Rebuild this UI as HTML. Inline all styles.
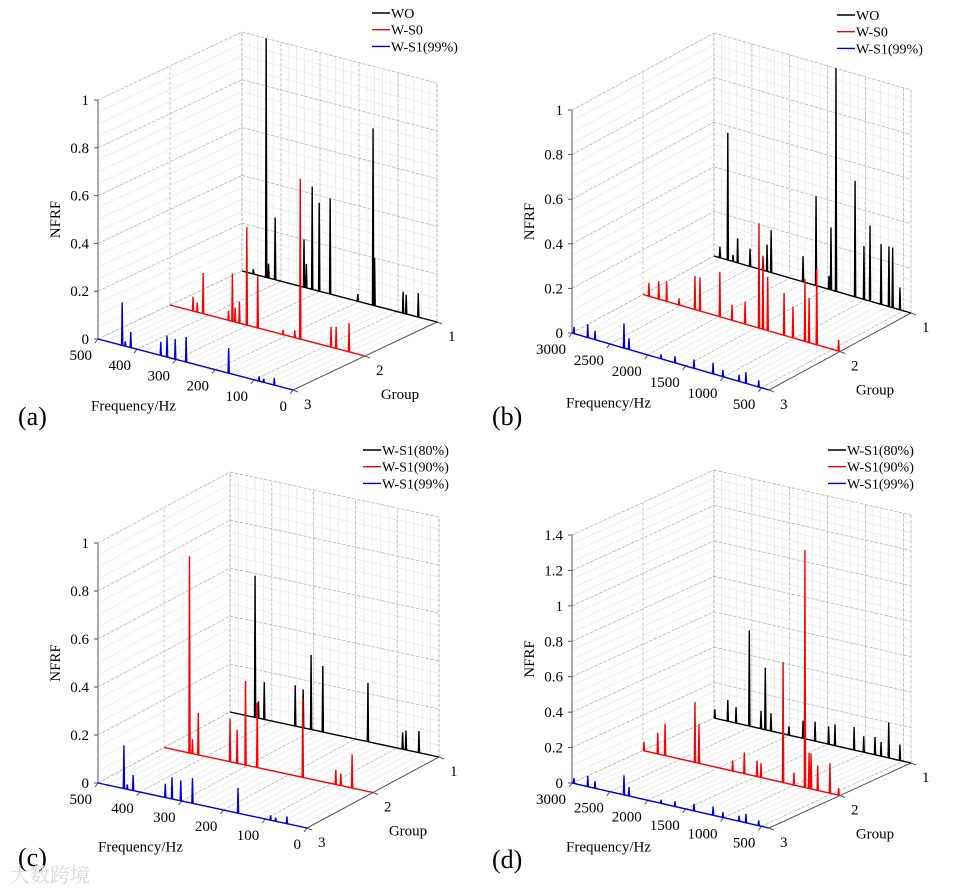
<!DOCTYPE html>
<html><head><meta charset="utf-8"><style>
html,body{margin:0;padding:0;background:#fff;}
svg{display:block;}
text{font-family:"Liberation Serif","Noto Serif CJK SC",serif;}
</style></head><body>
<svg id="fig" width="953" height="890" viewBox="0 0 953 890" font-family="Liberation Serif, serif" xmlns="http://www.w3.org/2000/svg"></svg>
<script>
// ---- data (frequency in Hz, NFRF value) ----
const aFreqWO=[471,438,432,415,341,335,320,302,274,203,164,160,87,79,48];
const aValWO=[.02,1.0,.06,.26,.2,.1,.43,.37,.4,.03,.74,.2,.09,.08,.1];
const aFreqS0=[441,430,415,350,340,333,322,303,275,210,180,166,87,74,41];
const aValS0=[.06,.04,.17,.04,.2,.06,.09,.41,.22,.02,.03,.67,.085,.09,.12];
const aFreqS1=[438,430,416,339,323,302,274,165,87,75,48];
const aValS1=[.18,.02,.065,.057,.09,.085,.105,.105,.02,.015,.03];

const bFreqWO=[2922,2818,2749,2688,2524,2353,2300,2246,1825,1653,1482,1456,1390,1138,1021,941,795,691,642,546];
const bValWO=[.05,.57,.03,.11,.08,.06,.12,.19,.115,.4,.06,.28,1.0,.52,.24,.34,.27,.27,.27,.1];
const bFreqS0=[2922,2792,2688,2524,2314,2248,1986,1825,1653,1469,1417,1354,1138,1021,863,808,707,418];
const bValS0=[.06,.08,.09,.03,.15,.15,.2,.07,.1,.47,.33,.24,.19,.14,.28,.2,.34,.05];
const bFreqS1=[2974,2792,2696,2314,2248,1825,1640,1390,1138,1008,795,704,536];
const bValS1=[.03,.06,.04,.11,.05,.02,.03,.04,.05,.03,.03,.05,.03];

const cFreq80=[440,432,418,344,325,306,278,170,87,79,48];
const cVal80=[.59,.07,.155,.17,.16,.31,.275,.245,.07,.08,.09];
const cFreq90=[439,432,418,342,325,305,277,168,89,77,50];
const cVal90=[.82,.06,.175,.18,.14,.35,.27,.33,.06,.05,.14];
const cFreq99=[438,430,416,339,323,302,274,165,87,75,48];
const cVal99=[.18,.02,.065,.057,.09,.085,.105,.105,.02,.015,.03];

const dFreq80=[2990,2818,2709,2534,2379,2323,2248,2011,1825,1666,1487,1403,1151,1024,875,795,694,546];
const dVal80=[.05,.12,.09,.54,.1,.35,.1,.05,.1,.11,.1,.12,.13,.09,.1,.08,.2,.09];
const dFreq90=[2987,2805,2709,2314,2261,1817,1663,1495,1442,1151,1008,863,808,782,694,533,418];
const dVal90=[.05,.12,.18,.34,.22,.06,.12,.09,.08,.68,.07,1.34,.2,.2,.14,.17,.04];
const dFreq99=[2974,2792,2696,2314,2248,1825,1640,1390,1138,1008,795,704,536];
const dVal99=[.03,.06,.04,.11,.05,.02,.03,.04,.05,.03,.03,.05,.03];

const zTicksA=['0','0.2','0.4','0.6','0.8','1'];
const zTicksD=['0','0.2','0.4','0.6','0.8','1','1.2','1.4'];
const fTicksA=[500,400,300,200,100,0];
const fTicksB=[3000,2500,2000,1500,1000,500];
const groupTicks=[1,2,3];

const NS='http://www.w3.org/2000/svg';
const svg=document.getElementById('fig');
function mk(tag,attrs,parent){const e=document.createElementNS(NS,tag);for(const k in attrs)e.setAttribute(k,attrs[k]);(parent||svg).appendChild(e);return e;}
const SERIF='Liberation Serif, serif';

const panels=[
 {id:'a',O:[98,339],F:[195,51],G:[144,-68],zH:239,zmax:1,fmax:500,fmin:0,fMaj:100,fMin:20,zMaj:.2,zMin:.05,zT:zTicksA,fT:fTicksA,
  series:[[aFreqWO,aValWO,'#000','WO'],[aFreqS0,aValS0,'#ff0000','W-S0'],[aFreqS1,aValS1,'#0000dd','W-S1(99%)']],leg:[372,13],lab:[18,425]},
 {id:'b',O:[572,333],F:[197,57],G:[142,-77],zH:223,zmax:1,fmax:3000,fmin:400,fMaj:500,fMin:100,zMaj:.2,zMin:.05,zT:zTicksA,fT:fTicksB,
  series:[[bFreqWO,bValWO,'#000','WO'],[bFreqS0,bValS0,'#ff0000','W-S0'],[bFreqS1,bValS1,'#0000dd','W-S1(99%)']],leg:[837,15],lab:[492,425]},
 {id:'c',O:[98,783],F:[209,45],G:[132,-71],zH:240,zmax:1,fmax:500,fmin:0,fMaj:100,fMin:20,zMaj:.2,zMin:.05,zT:zTicksA,fT:fTicksA,
  series:[[cFreq80,cVal80,'#000','W-S1(80%)'],[cFreq90,cVal90,'#ff0000','W-S1(90%)'],[cFreq99,cVal99,'#0000dd','W-S1(99%)']],leg:[363,450],lab:[18,866]},
 {id:'d',O:[572,783],F:[197,45],G:[142,-65],zH:248,zmax:1.4,fmax:3000,fmin:400,fMaj:500,fMin:100,zMaj:.2,zMin:.05,zT:zTicksD,fT:fTicksB,
  series:[[dFreq80,dVal80,'#000','W-S1(80%)'],[dFreq90,dVal90,'#ff0000','W-S1(90%)'],[dFreq99,dVal99,'#0000dd','W-S1(99%)']],leg:[828,450],lab:[492,868]}
];

panels.forEach(p=>{
  const g=mk('g',{'font-family':SERIF});
  
  
  const P=(f,gr,z)=>{const fr=(p.fmax-f)/(p.fmax-p.fmin);const gg=(3-gr)/2;
    return [p.O[0]+fr*p.F[0]+gg*p.G[0], p.O[1]+fr*p.F[1]+gg*p.G[1]-z*p.zH/p.zmax];};
  const line=(a,b,st,par)=>mk('line',Object.assign({x1:a[0].toFixed(2),y1:a[1].toFixed(2),x2:b[0].toFixed(2),y2:b[1].toFixed(2)},st),par||g);
  const txt=(x,y,s,size,anchor,par)=>{const t=mk('text',{x:x.toFixed(1),y:y.toFixed(1),'font-size':size,'font-family':SERIF,'text-anchor':anchor||'start'},par||g);t.textContent=s;return t;};
  const minorSt={stroke:'#e8e8e8','stroke-width':.7};
  const majorSt={stroke:'#b0b0b0','stroke-width':.7,'stroke-dasharray':'3,2'};
  const grid=mk('g',{},g);
  
  
  const nzMin=Math.round(p.zmax/p.zMin);
  for(let i=0;i<=nzMin;i++){const z=i*p.zMin;
    line(P(p.fmax,3,z),P(p.fmax,1,z),minorSt,grid);line(P(p.fmax,1,z),P(p.fmin,1,z),minorSt,grid);}
  for(let f=p.fmax;f>=p.fmin-1e-6;f-=p.fMin){
    line(P(f,3,0),P(f,1,0),minorSt,grid);line(P(f,1,0),P(f,1,p.zmax),minorSt,grid);}
  line(P(p.fmin,1,0),P(p.fmin,1,p.zmax),minorSt,grid);
  const nzMaj=Math.round(p.zmax/p.zMaj);
  for(let i=0;i<=nzMaj;i++){const z=i*p.zMaj;
    line(P(p.fmax,3,z),P(p.fmax,1,z),majorSt,grid);line(P(p.fmax,1,z),P(p.fmin,1,z),majorSt,grid);}
  p.fT.forEach(f=>{line(P(f,3,0),P(f,1,0),majorSt,grid);line(P(f,1,0),P(f,1,p.zmax),majorSt,grid);});
  [1,2].forEach(gr=>{line(P(p.fmax,gr,0),P(p.fmax,gr,p.zmax),majorSt,grid);line(P(p.fmax,gr,0),P(p.fmin,gr,0),majorSt,grid);});
  line(P(p.fmin,1,0),P(p.fmin,1,p.zmax),majorSt,grid);
  const axSt={stroke:'#555','stroke-width':1};
  const zax=line(P(p.fmax,3,0),P(p.fmax,3,p.zmax),axSt);
  
  
  const gax=line(P(p.fmin,3,0),P(p.fmin,1,0),axSt);
  
  
  const fax=line(P(p.fmax,3,0),P(p.fmin,3,0),axSt);
  
  
  p.zT.forEach((lab,i)=>{const q=P(p.fmax,3,i*p.zMaj);
    line([q[0]-4,q[1]],q,axSt);
    const t=txt(q[0]-9,q[1]+5,lab,15,'end');
    
    });
  p.fT.forEach(f=>{const q=P(f,3,0);
    line(q,[q[0]-3,q[1]+4],axSt);
    const t=txt(q[0]-6,q[1]+21,String(f),15,'end');
    
    });
  groupTicks.forEach(gr=>{const q=P(p.fmin,gr,0);
    line(q,[q[0]+5,q[1]+2],axSt);
    const t=txt(q[0]+11,q[1]+19,String(gr),15);
    
    });
  const zq=P(p.fmax,3,p.zmax/2);
  const yt=mk('text',{x:0,y:0,'text-anchor':'middle','font-size':15,'font-family':SERIF,transform:`translate(${zq[0]-38},${zq[1]}) rotate(-90)`},g);yt.textContent='NFRF';
  
  
  const fq=P((p.fmax+p.fmin)/2,3,0);
  const xt=txt(fq[0]-62,fq[1]+46,'Frequency/Hz',15,'middle');
  
  
  const gq=P(p.fmin,2,0);
  const gt=txt(gq[0]+35,gq[1]+43,'Group',15,'middle');
  
  
  p.series.forEach((s,si)=>{
    const [fr,vals,col]=s;const gr=si+1;
    const idx=fr.map((_,i)=>i).sort((a,b)=>fr[b]-fr[a]);
    let st=P(p.fmax,gr,0);let d=`M${st[0].toFixed(2)},${st[1].toFixed(2)}`;
    idx.forEach(i=>{const b=P(fr[i],gr,0);const tp=P(fr[i],gr,vals[i]);
      d+=` L${(b[0]-.6).toFixed(2)},${(b[1]-.15).toFixed(2)} L${tp[0].toFixed(2)},${tp[1].toFixed(2)} L${(b[0]+.6).toFixed(2)},${(b[1]+.15).toFixed(2)}`;});
    const en=P(p.fmin,gr,0);d+=` L${en[0].toFixed(2)},${en[1].toFixed(2)}`;
    const path=mk('path',{d:d,fill:'none',stroke:col,'stroke-width':1.4,'stroke-linejoin':'miter'},g);
    
    
  });
  const lg=mk('g',{},g);
  
  
  p.series.forEach((s,i)=>{const y=p.leg[1]+i*16.7;
    const e=mk('g',{},lg);
    
    
    mk('line',{x1:p.leg[0],y1:y,x2:p.leg[0]+18,y2:y,stroke:s[2],'stroke-width':1.4},e);
    txt(p.leg[0]+19,y+5,s[3],14,'start',e);});
  const pl=txt(p.lab[0],p.lab[1],'('+p.id+')',26);
  
  
});
const wm=mk('text',{x:10,y:882,'font-size':20,fill:'#d8d8d8','font-family':'Noto Sans CJK SC, sans-serif'});
wm.textContent='大数跨境';


</script>
</body></html>
